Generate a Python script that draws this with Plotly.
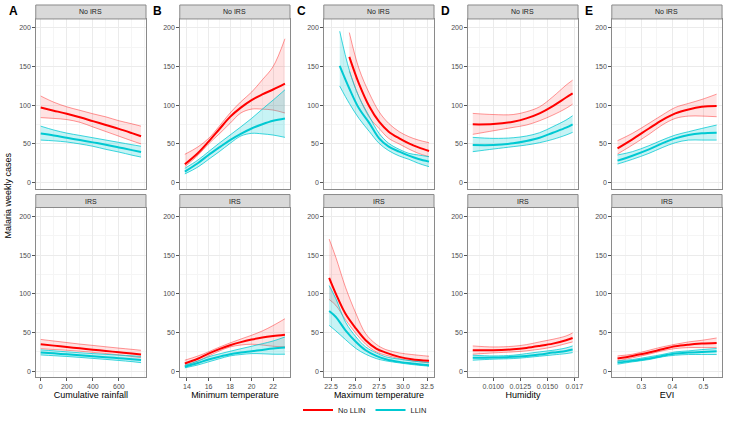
import plotly.graph_objects as go

# ---------------- DATA ----------------
groups = ["No LLIN", "LLIN"]
rows = ["No IRS", "IRS"]
panel_letters = ["A", "B", "C", "D", "E"]
x_titles = ["Cumulative rainfall", "Minimum temperature", "Maximum temperature", "Humidity", "EVI"]
y_title = "Malaria weekly cases"

# A: cumulative rainfall
rain_x = [0, 100, 200, 300, 400, 500, 600, 700, 770]
rain_noirs_nollin_mid = [97, 93, 89, 84.5, 79.5, 74.5, 69.5, 64, 60]
rain_noirs_nollin_hi = [112, 104, 98, 93.5, 89, 85, 80, 76, 73]
rain_noirs_nollin_lo = [84, 83, 81.5, 78, 72, 66, 60, 54, 50]
rain_noirs_llin_mid = [63.5, 61, 58, 55, 52, 49, 45.5, 42, 39.5]
rain_noirs_llin_hi = [73, 68, 64, 61, 58, 55, 52, 49, 47]
rain_noirs_llin_lo = [55, 54, 52.5, 50, 47, 43, 39.5, 35.5, 33]
rain_irs_nollin_mid = [34.8, 33, 31.3, 29.5, 27.8, 26.1, 24.4, 22.7, 21.5]
rain_irs_nollin_hi = [41, 39, 37, 35, 33.3, 31.5, 29.8, 28.2, 27]
rain_irs_nollin_lo = [29, 28, 27, 25.8, 24.3, 22.8, 21, 19, 17.5]
rain_irs_llin_mid = [24, 23, 21.7, 20.5, 19.2, 18, 16.8, 15.3, 14.3]
rain_irs_llin_hi = [27.5, 26.3, 25, 23.8, 22.7, 21.7, 20.7, 19.8, 19]
rain_irs_llin_lo = [21, 20, 19, 17.8, 16.5, 15.2, 13.8, 12.3, 11]

# B: minimum temperature
tmin_x = [13.8, 15, 16, 17, 18, 19, 20, 21, 22, 23.1]
tmin_noirs_nollin_mid = [23.7, 38, 53, 69, 85, 97, 106.7, 114, 120.4, 128]
tmin_noirs_nollin_hi = [36.6, 46, 57, 73, 90, 104.5, 117, 133, 150, 186]
tmin_noirs_nollin_lo = [20.6, 35, 50, 63, 76.6, 90, 95, 95, 93.8, 90]
tmin_noirs_llin_mid = [14.2, 25, 35.7, 45.5, 55, 63, 70, 75.5, 80, 83]
tmin_noirs_llin_hi = [18.5, 29, 40, 51, 61.5, 72, 83, 95, 106.7, 120]
tmin_noirs_llin_lo = [11.2, 20, 30, 40, 50.7, 60.2, 63.7, 63, 61.5, 58.5]
tmin_irs_nollin_mid = [9.9, 16, 22.7, 28.5, 33.5, 37.5, 40.8, 43.5, 45.5, 47.2]
tmin_irs_nollin_hi = [14.2, 19.5, 25, 31, 36.5, 41.5, 46.4, 52, 59, 67.8]
tmin_irs_nollin_lo = [6.9, 13, 19.7, 26, 31.3, 33.8, 34.8, 33.8, 32.2, 31.3]
tmin_irs_llin_mid = [5.6, 10.5, 15, 18.7, 21.9, 24, 25.7, 27.5, 29.2, 30.5]
tmin_irs_llin_hi = [7.7, 13, 18.5, 22.3, 25.7, 29, 32.2, 35.5, 39, 44.2]
tmin_irs_llin_lo = [4.3, 8, 12, 16, 19.7, 21.5, 22.7, 22.5, 21.9, 21.9]

# C: maximum temperature
tmax_noirs_nollin_x = [24.4, 25.4, 26.5, 27.5, 28.5, 29.6, 30.6, 31.6, 32.7]
tmax_noirs_nollin_mid = [162.6, 128, 98, 78.7, 65.8, 57.2, 50.8, 45.6, 40.9]
tmax_noirs_nollin_hi = [194, 147.5, 115, 91.6, 76.6, 65.8, 59.4, 55, 51.6]
tmax_noirs_nollin_lo = [144, 111, 84, 70, 57.2, 49.9, 43.4, 37.8, 33.5]
tmax_noirs_llin_x = [23.4, 24.4, 25.4, 26.5, 27.5, 28.5, 29.6, 30.6, 31.6, 32.7]
tmax_noirs_llin_mid = [151, 121.7, 96, 76.6, 57.2, 46.5, 40, 34.8, 30.5, 27.1]
tmax_noirs_llin_hi = [195.7, 145.4, 111, 85.2, 63.7, 50.8, 43, 37.8, 35.7, 33.5]
tmax_noirs_llin_lo = [124.7, 102.4, 83, 65.8, 50.8, 41.3, 34.4, 30.1, 24.9, 20.6]
tmax_irs_x = [22.3, 23.0, 24.0, 25.1, 26.1, 27.2, 28.2, 29.6, 30.9, 32.7]
tmax_irs_nollin_mid = [120.6, 100, 74.2, 55, 40, 29.2, 24, 18.5, 15.5, 13.3]
tmax_irs_nollin_hi = [170.8, 147, 108.6, 74.2, 48.5, 34.8, 27.9, 23.6, 21.5, 19.3]
tmax_irs_nollin_lo = [92.7, 85, 66.5, 48.5, 34.8, 24.9, 20.6, 16.3, 13.3, 10.7]
tmax_irs_llin_mid = [77.7, 70, 52.8, 37.8, 27, 19.7, 15.5, 12, 9.9, 7.7]
tmax_irs_llin_hi = [110.7, 93.6, 63.5, 44.2, 31.3, 23.6, 18.5, 15.5, 13.3, 11.2]
tmax_irs_llin_lo = [59.2, 52, 40.8, 29.2, 21.9, 16.3, 13.3, 10.7, 8.6, 6.4]

# D: humidity
hum_x = [0.0081, 0.0100, 0.01184, 0.01306, 0.01428, 0.01551, 0.01673, 0.01734]
hum_noirs_nollin_mid = [75.3, 75.7, 78.7, 83, 89.5, 99, 110, 115.3]
hum_noirs_nollin_hi = [89.5, 88, 88, 91.6, 98, 111, 126, 132.5]
hum_noirs_nollin_lo = [62.4, 67, 71.4, 74.4, 80, 87.3, 96, 101.5]
hum_noirs_llin_mid = [48.6, 48.6, 50.8, 53.8, 58, 64.5, 71, 75.3]
hum_noirs_llin_hi = [58.5, 57.2, 58, 60.2, 64.5, 72.3, 80.9, 86.5]
hum_noirs_llin_lo = [40, 43.4, 46.5, 48.6, 51.6, 55.9, 61.5, 65]
hum_irs_nollin_mid = [27, 27, 28.3, 30, 32.6, 35.6, 39.9, 42.9]
hum_irs_nollin_hi = [32.6, 31.3, 32.2, 34.3, 37.8, 41.2, 45.5, 49.4]
hum_irs_nollin_lo = [21.9, 23.6, 24.9, 26.2, 28.3, 31.3, 35.6, 37.8]
hum_irs_llin_mid = [17.2, 17.6, 18.5, 19.7, 21.5, 24, 26.2, 27.9]
hum_irs_llin_hi = [20.6, 19.7, 20.6, 22.7, 24.9, 27, 30, 32.6]
hum_irs_llin_lo = [14.2, 15.5, 16.3, 17.6, 19.3, 21, 22.7, 24]

# E: EVI
evi_x = [0.2234, 0.2713, 0.3245, 0.367, 0.4096, 0.452, 0.4947, 0.5426]
evi_noirs_nollin_mid = [44.3, 56, 70, 80.9, 89.5, 94.6, 98, 99]
evi_noirs_nollin_hi = [54.2, 63.7, 76.6, 87.3, 97.2, 102.4, 107.5, 114.4]
evi_noirs_nollin_lo = [37, 48.6, 62.4, 74.4, 83, 86, 86, 85.2]
evi_noirs_llin_mid = [28.4, 34.8, 43, 50.8, 57.2, 61.5, 63.7, 64.5]
evi_noirs_llin_hi = [35.7, 40, 47.7, 55, 61.5, 65.8, 70, 74.4]
evi_noirs_llin_lo = [24, 30.1, 37.8, 45.2, 51.6, 55, 55, 55]
evi_irs_nollin_mid = [16.3, 19.7, 24, 28.3, 32.2, 34.3, 35.6, 36.5]
evi_irs_nollin_hi = [19.7, 21.9, 27, 31.3, 34.8, 37.8, 39.9, 42.9]
evi_irs_nollin_lo = [13.3, 17.2, 21.9, 26.2, 29.2, 30.5, 30.5, 30.5]
evi_irs_llin_mid = [11.2, 13.3, 16.3, 19.7, 22.7, 24, 24.9, 25.7]
evi_irs_llin_hi = [13.3, 15, 18.5, 21.5, 24.9, 26.2, 27.9, 29.2]
evi_irs_llin_lo = [9, 12, 15, 18.5, 20.6, 21.5, 21.5, 21.5]

y_ticks = [0, 50, 100, 150, 200]
rain_ticks = [0, 200, 400, 600]
tmin_ticks = [14, 16, 18, 20, 22]
tmax_ticks = [22.5, 25.0, 27.5, 30.0, 32.5]
tmax_ticktext = ["22.5", "25.0", "27.5", "30.0", "32.5"]
hum_ticks = [0.0100, 0.0125, 0.0150, 0.0175]
hum_ticktext = ["0.0100", "0.0125", "0.0150", "0.017"]
evi_ticks = [0.3, 0.4, 0.5]

# ---------------- ASSEMBLY ----------------
panels = [
    [
        [(rain_x, rain_noirs_nollin_mid, rain_noirs_nollin_lo, rain_noirs_nollin_hi),
         (rain_x, rain_noirs_llin_mid, rain_noirs_llin_lo, rain_noirs_llin_hi)],
        [(rain_x, rain_irs_nollin_mid, rain_irs_nollin_lo, rain_irs_nollin_hi),
         (rain_x, rain_irs_llin_mid, rain_irs_llin_lo, rain_irs_llin_hi)],
    ],
    [
        [(tmin_x, tmin_noirs_nollin_mid, tmin_noirs_nollin_lo, tmin_noirs_nollin_hi),
         (tmin_x, tmin_noirs_llin_mid, tmin_noirs_llin_lo, tmin_noirs_llin_hi)],
        [(tmin_x, tmin_irs_nollin_mid, tmin_irs_nollin_lo, tmin_irs_nollin_hi),
         (tmin_x, tmin_irs_llin_mid, tmin_irs_llin_lo, tmin_irs_llin_hi)],
    ],
    [
        [(tmax_noirs_nollin_x, tmax_noirs_nollin_mid, tmax_noirs_nollin_lo, tmax_noirs_nollin_hi),
         (tmax_noirs_llin_x, tmax_noirs_llin_mid, tmax_noirs_llin_lo, tmax_noirs_llin_hi)],
        [(tmax_irs_x, tmax_irs_nollin_mid, tmax_irs_nollin_lo, tmax_irs_nollin_hi),
         (tmax_irs_x, tmax_irs_llin_mid, tmax_irs_llin_lo, tmax_irs_llin_hi)],
    ],
    [
        [(hum_x, hum_noirs_nollin_mid, hum_noirs_nollin_lo, hum_noirs_nollin_hi),
         (hum_x, hum_noirs_llin_mid, hum_noirs_llin_lo, hum_noirs_llin_hi)],
        [(hum_x, hum_irs_nollin_mid, hum_irs_nollin_lo, hum_irs_nollin_hi),
         (hum_x, hum_irs_llin_mid, hum_irs_llin_lo, hum_irs_llin_hi)],
    ],
    [
        [(evi_x, evi_noirs_nollin_mid, evi_noirs_nollin_lo, evi_noirs_nollin_hi),
         (evi_x, evi_noirs_llin_mid, evi_noirs_llin_lo, evi_noirs_llin_hi)],
        [(evi_x, evi_irs_nollin_mid, evi_irs_nollin_lo, evi_irs_nollin_hi),
         (evi_x, evi_irs_llin_mid, evi_irs_llin_lo, evi_irs_llin_hi)],
    ],
]
x_tickvals = [rain_ticks, tmin_ticks, tmax_ticks, hum_ticks, evi_ticks]
x_ticktext = [[str(v) for v in rain_ticks], [str(v) for v in tmin_ticks], tmax_ticktext,
              hum_ticktext, [str(v) for v in evi_ticks]]

# styles
W, H = 735, 425
FONT = "Liberation Sans, Arial, sans-serif"
line_col = {"No LLIN": "#FF0000", "LLIN": "#00C9D2"}
edge_col = {"No LLIN": "rgba(255,0,0,0.45)", "LLIN": "rgba(0,201,210,0.85)"}
fill_col = {"No LLIN": "rgba(255,0,0,0.11)", "LLIN": "rgba(0,201,210,0.22)"}

panel_left_px = [36, 181, 326, 471, 616]
panel_w_px = 111
row_top_px = [19, 208]
row_h_px = 170
strip_px = [(5, 19), (195, 208)]

x_ranges = [[-38, 808], [13.33, 23.57], [21.74, 33.22], [0.00764, 0.01784], [0.205, 0.56]]
x_minor = [(0, 100), (14, 1), (22.5, 1.25), (0.01, 0.00125), (0.3, 0.05)]
y_range = [-7.7, 211.6]

fig = go.Figure()

GRID_MAJ = "#EBEBEB"
GRID_MIN = "#F5F5F5"
BORDER = "#8A8A8A"

layout_axes = {}
shapes = []
annotations = []

for c in range(5):
    for r in range(2):
        idx = r * 5 + c + 1
        xa = "x" if idx == 1 else f"x{idx}"
        ya = "y" if idx == 1 else f"y{idx}"
        for g, gname in enumerate(groups):
            xs, mid, lo, hi = panels[c][r][g]
            fig.add_trace(go.Scatter(x=xs, y=hi, xaxis=xa, yaxis=ya, mode="lines",
                                     line=dict(color=edge_col[gname], width=0.9, shape="spline"),
                                     showlegend=False, hoverinfo="skip"))
            fig.add_trace(go.Scatter(x=xs, y=lo, xaxis=xa, yaxis=ya, mode="lines",
                                     line=dict(color=edge_col[gname], width=0.9, shape="spline"),
                                     fill="tonexty", fillcolor=fill_col[gname],
                                     showlegend=False, hoverinfo="skip"))
        for g, gname in enumerate(groups):
            xs, mid, lo, hi = panels[c][r][g]
            fig.add_trace(go.Scatter(x=xs, y=mid, xaxis=xa, yaxis=ya, mode="lines",
                                     line=dict(color=line_col[gname], width=2, shape="spline"),
                                     name=gname, legendgroup=gname,
                                     showlegend=(idx == 1)))

        x0 = panel_left_px[c] / W
        x1 = (panel_left_px[c] + panel_w_px) / W
        y1 = 1 - row_top_px[r] / H
        y0 = 1 - (row_top_px[r] + row_h_px) / H

        m0, mdt = x_minor[c]
        xaxis = dict(domain=[x0, x1], anchor=ya, range=x_ranges[c],
                     tickmode="array", tickvals=x_tickvals[c], ticktext=x_ticktext[c],
                     showgrid=True, gridcolor=GRID_MAJ, gridwidth=0.8,
                     zeroline=False, showline=True, mirror=True, linecolor=BORDER, linewidth=1,
                     minor=dict(showgrid=True, gridcolor=GRID_MIN, gridwidth=0.6,
                                tickmode="linear", tick0=m0, dtick=mdt),
                     tickfont=dict(size=7, color="#4D4D4D", family=FONT))
        if r == 0:
            xaxis.update(showticklabels=False, ticks="")
        else:
            xaxis.update(ticks="outside", ticklen=2.5, tickcolor="#555", tickwidth=0.8,
                         title=dict(text=x_titles[c], standoff=2,
                                    font=dict(size=9, color="#000", family=FONT)))
        yaxis = dict(domain=[y0, y1], anchor=xa, range=y_range,
                     tickmode="array", tickvals=y_ticks,
                     showgrid=True, gridcolor=GRID_MAJ, gridwidth=0.8,
                     zeroline=False, showline=True, mirror=True, linecolor=BORDER, linewidth=1,
                     minor=dict(showgrid=True, gridcolor=GRID_MIN, gridwidth=0.6,
                                tickmode="linear", tick0=25, dtick=50),
                     ticks="outside", ticklen=2.5, tickcolor="#555", tickwidth=0.8,
                     tickfont=dict(size=7, color="#4D4D4D", family=FONT))
        layout_axes["xaxis" if idx == 1 else f"xaxis{idx}"] = xaxis
        layout_axes["yaxis" if idx == 1 else f"yaxis{idx}"] = yaxis

        s_top, s_bot = strip_px[r]
        shapes.append(dict(type="rect", xref="paper", yref="paper",
                           x0=x0, x1=x1, y0=1 - s_bot / H, y1=1 - s_top / H,
                           fillcolor="#D9D9D9", line=dict(color=BORDER, width=1)))
        annotations.append(dict(text=rows[r], xref="paper", yref="paper",
                                x=(x0 + x1) / 2, y=1 - (s_top + s_bot) / 2 / H,
                                showarrow=False, xanchor="center", yanchor="middle",
                                font=dict(size=7, color="#1A1A1A", family=FONT)))

    annotations.append(dict(text=f"<b>{panel_letters[c]}</b>", xref="paper", yref="paper",
                            x=(panel_left_px[c] - 29) / W, y=1 - 11 / H,
                            showarrow=False, xanchor="left", yanchor="middle",
                            font=dict(size=12, color="#000", family=FONT)))

annotations.append(dict(text=y_title, xref="paper", yref="paper", x=8 / W, y=1 - 196 / H,
                        textangle=-90, showarrow=False, xanchor="center", yanchor="middle",
                        font=dict(size=9, color="#000", family=FONT)))

fig.update_layout(
    width=W, height=H,
    margin=dict(l=0, r=0, t=0, b=0),
    paper_bgcolor="white", plot_bgcolor="white",
    font=dict(family=FONT),
    shapes=shapes, annotations=annotations,
    legend=dict(orientation="h", x=0.5, xanchor="center", y=1 - 411 / H, yanchor="middle",
                font=dict(size=7.5, color="#1A1A1A", family=FONT),
                itemwidth=30, bgcolor="rgba(0,0,0,0)"),
    **layout_axes,
)

fig.write_html("out.html", config={"displayModeBar": False},
               post_script="document.body.style.margin='0';document.body.style.overflow='hidden';")
